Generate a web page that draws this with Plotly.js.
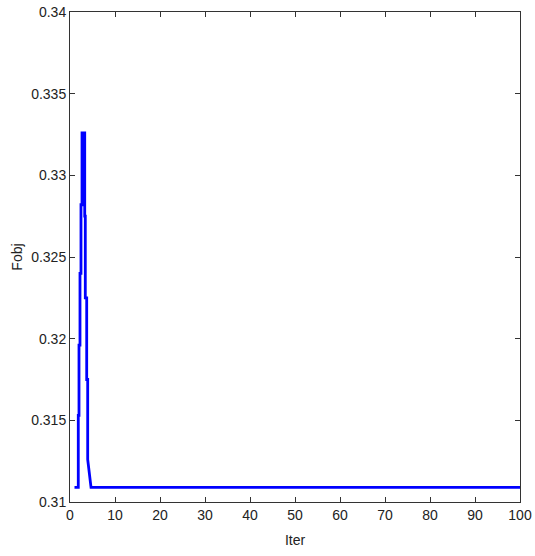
<!DOCTYPE html>
<html>
<head>
<meta charset="utf-8">
<script src="https://cdn.plot.ly/plotly-3.0.1.min.js"></script>
<style>html,body{margin:0;padding:0;background:#fff;}#chart{width:535px;height:556px;}</style>
</head>
<body>
<div id="chart"></div>
<script>
// Iteration positions and objective values
const iter = [1, 1.84, 1.84, 2.0, 2.0, 2.22, 2.22, 2.44, 2.44, 2.67, 2.67, 3.27, 3.27, 3.4, 3.4, 3.71, 3.71, 3.93, 3.93, 4.29, 4.67, 100];
const fobj = [0.3109, 0.3109, 0.3153, 0.3153, 0.3196, 0.3196, 0.3240, 0.3240, 0.3282, 0.3282, 0.3326, 0.3326, 0.3275, 0.3275, 0.3225, 0.3225, 0.3175, 0.3175, 0.3126, 0.3118, 0.3109, 0.3109];
const xTicks = [0, 10, 20, 30, 40, 50, 60, 70, 80, 90, 100];
const yTicks = [0.31, 0.315, 0.32, 0.325, 0.33, 0.335, 0.34];
const yTickText = ['0.31', '0.315', '0.32', '0.325', '0.33', '0.335', '0.34'];

const font = {family: '"Liberation Sans", Arial, sans-serif', size: 14, color: '#222'};

Plotly.newPlot('chart', [{
  x: iter, y: fobj, type: 'scatter', mode: 'lines',
  line: {color: '#0000ff', width: 2.8}, hoverinfo: 'skip'
}], {
  width: 535, height: 556,
  margin: {l: 70, r: 15, t: 12, b: 54},
  paper_bgcolor: '#fff', plot_bgcolor: '#fff',
  showlegend: false,
  font: font,
  xaxis: {
    range: [0, 100], tickvals: xTicks, ticktext: xTicks.map(String),
    ticks: 'inside', ticklen: 5, tickcolor: '#333', tickwidth: 1,
    showline: true, linecolor: '#333', linewidth: 1, mirror: 'ticks',
    showgrid: false, zeroline: false, tickfont: font,
    title: {text: 'Iter', font: font, standoff: 13}
  },
  yaxis: {
    range: [0.31, 0.34], tickvals: yTicks, ticktext: yTickText,
    ticks: 'inside', ticklen: 5, tickcolor: '#333', tickwidth: 1,
    showline: true, linecolor: '#333', linewidth: 1, mirror: 'ticks',
    showgrid: false, zeroline: false, tickfont: font,
    title: {text: 'Fobj', font: font, standoff: 5}
  }
}, {staticPlot: true});
</script>
</body>
</html>
